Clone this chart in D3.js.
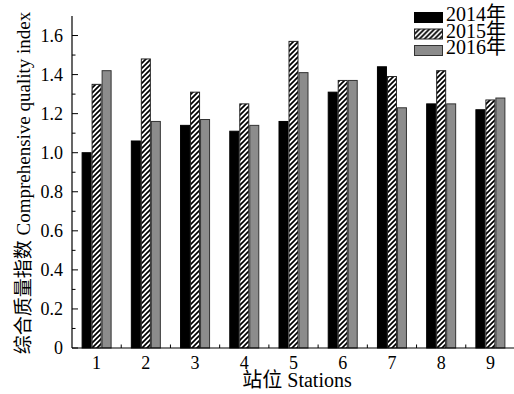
<!DOCTYPE html>
<html>
<head>
<meta charset="utf-8">
<script src="https://cdn.jsdelivr.net/npm/d3@7"></script>
<style>
  body { margin: 0; background: #fff; }
  svg { display: block; }
  text { font-family: "Liberation Serif", "Times New Roman", "Noto Sans CJK SC", serif; fill: #000; }
</style>
</head>
<body>
<svg width="514" height="394"></svg>
<script>
// data
var stations = ["1", "2", "3", "4", "5", "6", "7", "8", "9"];
var years = ["2014年", "2015年", "2016年"];
var v2014 = [1.00, 1.06, 1.14, 1.11, 1.16, 1.31, 1.44, 1.25, 1.22];
var v2015 = [1.35, 1.48, 1.31, 1.25, 1.57, 1.37, 1.39, 1.42, 1.27];
var v2016 = [1.42, 1.16, 1.17, 1.14, 1.41, 1.37, 1.23, 1.25, 1.28];
var yTicks = [0, 0.2, 0.4, 0.6, 0.8, 1.0, 1.2, 1.4, 1.6];

var series = [v2014, v2015, v2016];

var svg = d3.select("svg");
var plotLeft = 72, plotRight = 515, plotTop = 16, plotBottom = 348;

var defs = svg.append("defs");
defs.append("pattern")
  .attr("id", "hatch")
  .attr("patternUnits", "userSpaceOnUse")
  .attr("width", 5).attr("height", 5)
  .call(function(p) {
    p.append("rect").attr("width", 5).attr("height", 5).attr("fill", "#fff");
    p.append("path")
      .attr("d", "M-1,6 L6,-1 M-1,1 L1,-1 M4,6 L6,4")
      .attr("stroke", "#000").attr("stroke-width", 1.7);
  });

var fills = ["#000", "url(#hatch)", "#8c8c8c"];
var strokes = ["#000", "#222", "#333"];

var x = d3.scaleBand().domain(stations).range([plotLeft, plotRight]).paddingInner(0).paddingOuter(0);
var y = d3.scaleLinear().domain([0, 1.7]).range([plotBottom, plotTop]);
var barW = 10;

// bars
stations.forEach(function(s, i) {
  var cx = x(s) + x.bandwidth() / 2;
  series.forEach(function(vals, k) {
    svg.append("rect")
      .attr("x", cx - 15 + k * barW + 0.5)
      .attr("y", y(vals[i]))
      .attr("width", barW - 1)
      .attr("height", plotBottom - y(vals[i]))
      .attr("fill", fills[k])
      .attr("stroke", strokes[k])
      .attr("stroke-width", 1);
  });
});

// y axis, ticks inward
var yAxis = svg.append("g").attr("transform", "translate(" + plotLeft + ",0)");
yAxis.append("line").attr("y1", plotTop).attr("y2", plotBottom).attr("stroke", "#000").attr("stroke-width", 1.2);
d3.range(0, 17).forEach(function(i) {
  var v = i / 10;
  var major = i % 2 === 0;
  yAxis.append("line")
    .attr("x1", 0).attr("x2", major ? 6 : 3.5)
    .attr("y1", y(v)).attr("y2", y(v))
    .attr("stroke", "#000").attr("stroke-width", 1);
});
yAxis.selectAll(".tl").data(yTicks).enter().append("text")
  .attr("x", -9).attr("y", function(d) { return y(d); })
  .attr("dy", "0.35em")
  .attr("text-anchor", "end")
  .attr("font-size", 18)
  .text(function(d) { return d === 0 ? "0" : d3.format(".1f")(d); });

// x axis
var xAxis = svg.append("g").attr("transform", "translate(0," + plotBottom + ")");
xAxis.append("line").attr("x1", plotLeft).attr("x2", plotRight).attr("stroke", "#000").attr("stroke-width", 1.2);
stations.slice(1).forEach(function(s) {
  xAxis.append("line")
    .attr("x1", x(s)).attr("x2", x(s))
    .attr("y1", 0).attr("y2", -3.5)
    .attr("stroke", "#000").attr("stroke-width", 1);
});
xAxis.selectAll(".xl").data(stations).enter().append("text")
  .attr("x", function(d) { return x(d) + x.bandwidth() / 2; })
  .attr("y", 21)
  .attr("text-anchor", "middle")
  .attr("font-size", 18)
  .text(function(d) { return d; });

// axis titles
svg.append("text")
  .attr("x", 297).attr("y", 387)
  .attr("text-anchor", "middle")
  .attr("font-size", 20)
  .text("站位 Stations");

svg.append("text")
  .attr("transform", "translate(30,183) rotate(-90)")
  .attr("text-anchor", "middle")
  .attr("font-size", 19)
  .text("综合质量指数 Comprehensive quality index");

// legend
var legend = svg.append("g").attr("transform", "translate(414,8)");
years.forEach(function(yr, k) {
  var g = legend.append("g").attr("transform", "translate(0," + k * 16.5 + ")");
  g.append("rect")
    .attr("x", 0.5).attr("y", 4.5)
    .attr("width", 28).attr("height", 10)
    .attr("fill", fills[k]).attr("stroke", strokes[k]).attr("stroke-width", 1);
  g.append("text")
    .attr("x", 32).attr("y", 13)
    .attr("font-size", 20)
    .text(yr);
});
</script>
</body>
</html>
